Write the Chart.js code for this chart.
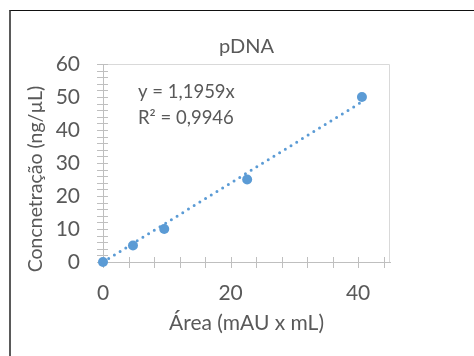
<!DOCTYPE html>
<html>
<head>
<meta charset="utf-8">
<script src="https://cdn.jsdelivr.net/npm/chart.js@4"></script>
<style>
    body { margin: 0; background: #fff; }
    #wrap { position: relative; width: 474px; height: 356px; overflow: hidden; }
    #frame {
        position: absolute; left: 9px; top: 10px; width: 600px; height: 500px;
        border-top: 1px solid #111; border-left: 2px solid #5a5a5a;
        pointer-events: none;
    }
</style>
</head>
<body>
<div id="wrap">
    <canvas id="chart" width="474" height="356"></canvas>
    <div id="frame"></div>
</div>
<script>
// pDNA calibration curve
const areaX = [0, 4.7, 9.6, 22.6, 40.6];
const concY = [0, 5, 10, 25, 50];
const slope = 1.1959;
const xTickLabels = [0, 20, 40];
const yTickLabels = [0, 10, 20, 30, 40, 50, 60];
const eqText = ["y = 1,1959x", "R² = 0,9946"];

const blue = "#5b9bd5";
const textGray = "#595959";
const fontName = "Lato";

const points = areaX.map((x, i) => ({ x: x, y: concY[i] }));
const xLast = areaX[areaX.length - 1];
const trend = [{ x: 0, y: 0 }, { x: xLast, y: slope * xLast }];

// excel-style cross ticks, plot box, y title and equation
const extras = {
    id: "extras",
    beforeDatasetsDraw(chart) {
        const ctx = chart.ctx;
        const a = chart.chartArea;
        const xs = chart.scales.x;
        const ys = chart.scales.y;
        ctx.save();
        ctx.strokeStyle = "#d9d9d9";
        ctx.lineWidth = 1;
        ctx.beginPath();
        ctx.moveTo(a.left, a.top + 0.5);
        ctx.lineTo(a.right - 0.5, a.top + 0.5);
        ctx.lineTo(a.right - 0.5, a.bottom);
        ctx.stroke();

        ctx.strokeStyle = "#bfbfbf";
        ctx.beginPath();
        ys.ticks.forEach(t => {
            const py = Math.round(ys.getPixelForValue(t.value)) + 0.5;
            ctx.moveTo(a.left - 6, py);
            ctx.lineTo(a.left + 5, py);
        });
        xs.ticks.forEach(t => {
            const px = Math.round(xs.getPixelForValue(t.value)) + 0.5;
            ctx.moveTo(px, a.bottom - 5);
            ctx.lineTo(px, a.bottom + 6);
        });
        ctx.stroke();

        ctx.fillStyle = textGray;
        ctx.font = "18.5px " + fontName;
        ctx.textBaseline = "middle";
        ctx.textAlign = "left";
        ctx.fillText(eqText[0], 138, 92);
        ctx.fillText(eqText[1], 138, 118);

        ctx.translate(36, 179);
        ctx.rotate(-Math.PI / 2);
        ctx.textAlign = "center";
        ctx.font = "19.5px " + fontName;
        ctx.fillText("Concnetração (ng/µL)", 0, 0);
        ctx.restore();
    }
};

new Chart(document.getElementById("chart").getContext("2d"), {
    type: "scatter",
    data: {
        datasets: [{
            label: "Trend",
            type: "line",
            data: trend,
            borderColor: blue,
            borderWidth: 3,
            borderDash: [0, 6.7],
            borderCapStyle: "round",
            pointRadius: 0,
            fill: false,
            clip: false
        }, {
            label: "pDNA",
            data: points,
            backgroundColor: blue,
            borderColor: blue,
            pointRadius: 5,
            pointBorderWidth: 0,
            clip: false
        }]
    },
    options: {
        responsive: false,
        animation: false,
        layout: { padding: { left: 0, right: 84, top: 0, bottom: 0 } },
        plugins: {
            legend: { display: false },
            tooltip: { enabled: false },
            title: {
                display: true,
                text: "pDNA",
                fullSize: false,
                color: textGray,
                font: { family: fontName, size: 20, weight: "normal" },
                padding: { top: 35, bottom: 5 }
            }
        },
        scales: {
            x: {
                type: "linear",
                min: 0,
                max: 45,
                grid: { display: false, drawTicks: false },
                border: { display: true, color: "#bfbfbf", width: 1 },
                ticks: {
                    stepSize: 4,
                    includeBounds: false,
                    autoSkip: false,
                    maxRotation: 0,
                    padding: 19,
                    color: textGray,
                    font: { family: fontName, size: 21 },
                    callback: v => xTickLabels.includes(v) ? v : ""
                },
                title: {
                    display: true,
                    text: "Área (mAU x mL)",
                    color: textGray,
                    font: { family: fontName, size: 21 },
                    padding: { top: 0, bottom: 20.4 }
                },
                afterFit: s => { s.height = 94; }
            },
            y: {
                min: 0,
                max: 60,
                grid: { display: false, drawTicks: false },
                border: { display: true, color: "#bfbfbf", width: 1 },
                ticks: {
                    stepSize: 2,
                    autoSkip: false,
                    padding: 23,
                    color: textGray,
                    font: { family: fontName, size: 21 },
                    callback: v => yTickLabels.includes(v) ? v : ""
                },
                afterFit: s => { s.width = 103; }
            }
        }
    },
    plugins: [extras]
});
</script>
</body>
</html>
